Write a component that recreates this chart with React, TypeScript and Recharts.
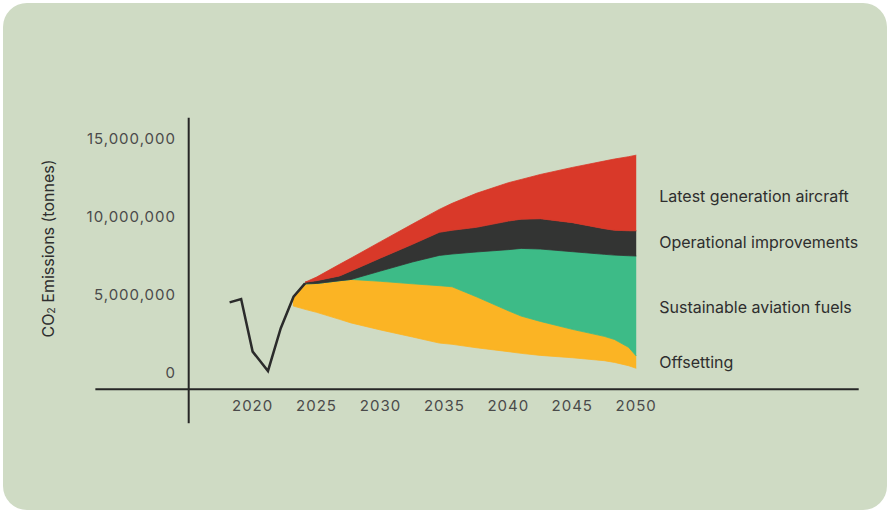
import React from 'react';
import {
  ComposedChart,
  Area,
  Line,
  XAxis,
  YAxis,
  ReferenceLine,
  ReferenceDot,
} from 'recharts';

// ---- data (values in millions of tonnes CO2) ----
const histYears = [2018.2, 2019.1, 2020.0, 2021.2, 2022.2, 2023.2, 2024.1];
const histValues = [4.53, 4.74, 1.37, 0.13, 2.87, 4.89, 5.75];

const bandYears = [
  2023.15, 2023.2, 2024.1, 2025, 2026.8, 2027.7, 2030, 2032.5, 2034.6, 2035.6,
  2037.5, 2040, 2041, 2042.5, 2045, 2047.5, 2048.3, 2049.4, 2050,
];
// top of red band (business as usual)
const bauValues = [
  null, null, 5.82, 6.15, 6.97, 7.37, 8.42, 9.55, 10.49, 10.88, 11.52, 12.2, 12.41,
  12.73, 13.18, 13.59, 13.72, 13.87, 13.97,
];
// after latest generation aircraft (top of dark band)
const afterAircraftValues = [
  null, null, 5.82, 5.92, 6.22, 6.54, 7.37, 8.25, 9.02, 9.15, 9.34, 9.74, 9.86, 9.89,
  9.64, 9.25, 9.15, 9.12, 9.12,
];
// after operational improvements (top of green band)
const afterOpsValues = [
  null, null, 5.72, 5.74, 5.92, 6.0, 6.54, 7.12, 7.54, 7.63, 7.76, 7.91, 7.99, 7.95,
  7.78, 7.61, 7.56, 7.52, 7.5,
];
// after sustainable aviation fuels (top of orange band)
const afterSafValues = [
  4.75, 4.89, 5.72, 5.74, 5.92, 6.0, 5.88, 5.72, 5.6, 5.53, 4.89, 3.99, 3.65, 3.31,
  2.8, 2.35, 2.15, 1.65, 1.09,
];
// net after offsetting (bottom of orange band)
const netValues = [
  4.31, 4.29, 4.08, 3.89, 3.44, 3.21, 2.76, 2.31, 1.92, 1.84, 1.62, 1.37, 1.26, 1.13,
  0.98, 0.79, 0.68, 0.47, 0.3,
];

const xTicks = [2020, 2025, 2030, 2035, 2040, 2045, 2050];
const yTicks = [0, 5000000, 10000000, 15000000];
const bandNames = [
  'Latest generation aircraft',
  'Operational improvements',
  'Sustainable aviation fuels',
  'Offsetting',
];
// value level (millions) at which each band name sits
const labelValues = [11.3, 8.35, 4.21, 0.66];

const M = 1000000;
const FONT = 'Inter, "Noto Sans", sans-serif';

type Row = {
  year: number;
  hist?: number | null;
  bau?: number | null;
  aircraft?: number | null;
  ops?: number | null;
  saf?: number | null;
  net?: number | null;
};

const rowMap = new Map<number, Row>();
const getRow = (y: number): Row => {
  if (!rowMap.has(y)) rowMap.set(y, { year: y });
  return rowMap.get(y)!;
};
histYears.forEach((y, i) => {
  getRow(y).hist = histValues[i] * M;
});
bandYears.forEach((y, i) => {
  const r = getRow(y);
  r.bau = bauValues[i] == null ? null : (bauValues[i] as number) * M;
  r.aircraft = afterAircraftValues[i] == null ? null : (afterAircraftValues[i] as number) * M;
  r.ops = afterOpsValues[i] == null ? null : (afterOpsValues[i] as number) * M;
  r.saf = afterSafValues[i] * M;
  r.net = netValues[i] * M;
});
const rows: Row[] = Array.from(rowMap.values()).sort((a, b) => a.year - b.year);

const range = (lo: keyof Row, hi: keyof Row) => (d: Row) =>
  d[lo] == null || d[hi] == null ? null : [d[lo] as number, d[hi] as number];

const X_MIN = 2015;
const X_MAX = 2067.4;
const Y_MIN = -1045000;
const Y_MAX = 16370000;

const AXIS = '#262626';

const YLabel = (props: any) => {
  const vb = props.viewBox || {};
  const x = vb.x + 9;
  const y = vb.y + vb.height / 2 - 5;
  return (
    <text
      x={x}
      y={y}
      transform={`rotate(-90 ${x} ${y})`}
      textAnchor="middle"
      dominantBaseline="central"
      fontSize={16}
      fontFamily={FONT}
      fill="#2e2e2e"
    >
      CO
      <tspan fontSize={10.5} dy={3}>
        2
      </tspan>
      <tspan dy={-3}> Emissions (tonnes)</tspan>
    </text>
  );
};

export default function App() {
  return (
    <div style={{ position: 'absolute', left: 0, top: 0, width: 888, height: 511, background: '#ffffff' }}>
      <div
        style={{
          position: 'absolute',
          left: 3,
          top: 3,
          width: 884,
          height: 507,
          borderRadius: 24,
          background: '#cfdbc4',
        }}
      />
      <div style={{ position: 'absolute', left: 0, top: 0 }}>
        <ComposedChart
          width={888}
          height={511}
          data={rows}
          margin={{ top: 117.7, right: 29.3, bottom: 91.7, left: 38.7 }}
        >
          <XAxis
            type="number"
            dataKey="year"
            domain={[X_MIN, X_MAX]}
            allowDataOverflow
            ticks={xTicks}
            tickLine={false}
            tickSize={0}
            tickMargin={11}
            height={30}
            axisLine={{ stroke: AXIS, strokeWidth: 2 }}
            tick={{ fill: '#4a4a4a', fontSize: 15, fontFamily: FONT, letterSpacing: 1 }}
          />
          <YAxis
            type="number"
            domain={[Y_MIN, Y_MAX]}
            allowDataOverflow
            ticks={yTicks}
            tickFormatter={(v: number) => v.toLocaleString('en-US')}
            tickLine={false}
            tickSize={0}
            tickMargin={12.7}
            width={150}
            axisLine={{ stroke: AXIS, strokeWidth: 2 }}
            tick={{ fill: '#4a4a4a', fontSize: 15, fontFamily: FONT, letterSpacing: 1 }}
            label={{ content: YLabel }}
          />
          <ReferenceLine
            segment={[
              { x: 2007.7, y: Y_MIN },
              { x: X_MIN, y: Y_MIN },
            ]}
            stroke={AXIS}
            strokeWidth={2}
            ifOverflow="visible"
          />
          <ReferenceLine
            segment={[
              { x: X_MIN, y: Y_MIN },
              { x: X_MIN, y: -3220000 },
            ]}
            stroke={AXIS}
            strokeWidth={2}
            ifOverflow="visible"
          />
          <Area
            type="linear"
            dataKey={range('net', 'saf')}
            fill="#fbb424"
            fillOpacity={1}
            stroke="#fbb424"
            strokeWidth={0.8}
            connectNulls
            isAnimationActive={false}
            activeDot={false}
          />
          <Area
            type="linear"
            dataKey={range('saf', 'ops')}
            fill="#3dbb87"
            fillOpacity={1}
            stroke="#3dbb87"
            strokeWidth={0.8}
            connectNulls
            isAnimationActive={false}
            activeDot={false}
          />
          <Area
            type="linear"
            dataKey={range('ops', 'aircraft')}
            fill="#333433"
            fillOpacity={1}
            stroke="#333433"
            strokeWidth={0.8}
            connectNulls
            isAnimationActive={false}
            activeDot={false}
          />
          <Area
            type="linear"
            dataKey={range('aircraft', 'bau')}
            fill="#d93929"
            fillOpacity={1}
            stroke="#d93929"
            strokeWidth={0.8}
            connectNulls
            isAnimationActive={false}
            activeDot={false}
          />
          <Line
            type="linear"
            dataKey="hist"
            stroke="#2b2b2b"
            strokeWidth={2.5}
            dot={false}
            activeDot={false}
            connectNulls
            isAnimationActive={false}
          />
          {bandNames.map((name, i) => (
            <ReferenceDot
              key={name}
              x={2050}
              y={labelValues[i] * M}
              r={0}
              fill="none"
              stroke="none"
              label={{
                value: name,
                position: 'right',
                offset: 23,
                fill: '#2e2e2e',
                fontSize: 16,
                fontFamily: FONT,
              }}
            />
          ))}
        </ComposedChart>
      </div>
    </div>
  );
}
